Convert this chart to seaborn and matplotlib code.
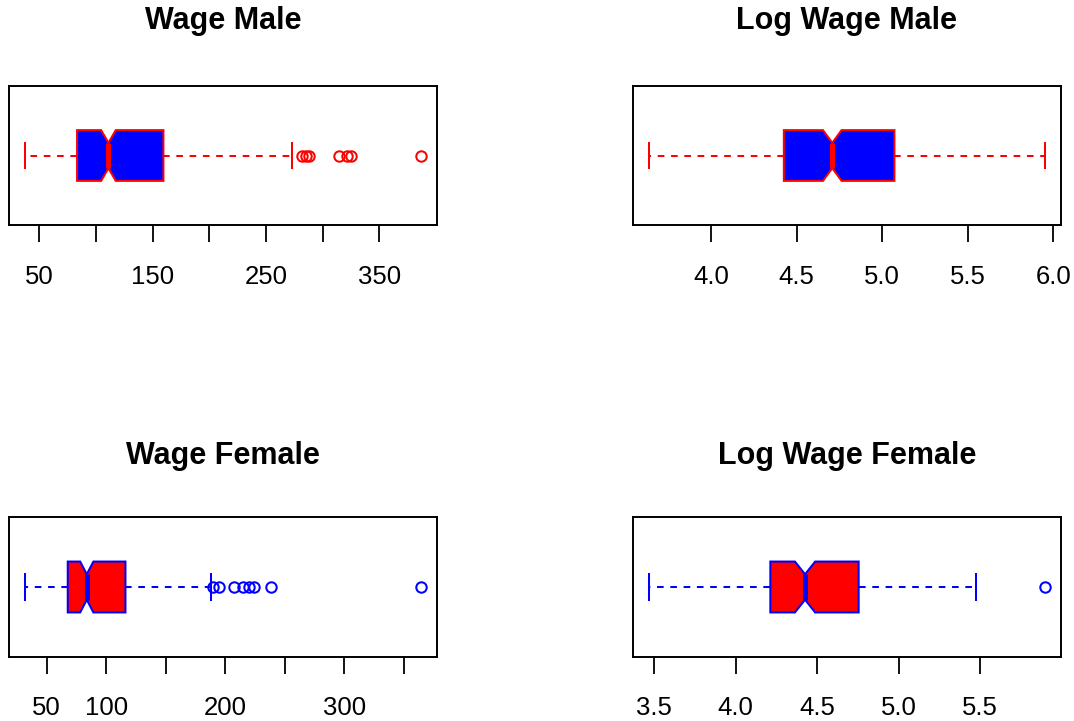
import numpy as np
import pandas as pd
import matplotlib
matplotlib.use("Agg")
import matplotlib.pyplot as plt
import seaborn as sns

# Five-number summaries:
# [lower whisker, Q1, median, Q3, upper whisker]
wage_male_stats = [37.4, 83.2, 110.9, 159.4, 272.6]
wage_male_outliers = [282.0, 285.0, 288.0, 314.0, 321.0, 324.7, 386.5]
logwage_male_stats = [3.639, 4.426, 4.709, 5.072, 5.951]
logwage_male_outliers = []
wage_female_stats = [31.8, 67.6, 83.6, 116.1, 188.1]
wage_female_outliers = [190.0, 194.8, 206.9, 214.7, 219.5, 224.3, 238.2, 364.3]
logwage_female_stats = [3.469, 4.213, 4.426, 4.755, 5.475]
logwage_female_outliers = [5.898]
n_male = 349      # sample sizes estimated from notch widths
n_female = 189

titles = ["Wage Male", "Log Wage Male", "Wage Female", "Log Wage Female"]
ticks_wage = [50, 100, 150, 200, 250, 300, 350]
ticks_log_male = [4.0, 4.5, 5.0, 5.5, 6.0]
ticks_log_female = [3.5, 4.0, 4.5, 5.0, 5.5]
labels_wage_male = ["50", "", "150", "", "250", "", "350"]
labels_wage_female = ["50", "100", "", "200", "", "300", ""]
labels_log_male = ["4.0", "4.5", "5.0", "5.5", "6.0"]
labels_log_female = ["3.5", "4.0", "4.5", "5.0", "5.5"]


def sample_from_summary(stats, outliers, n):
    """Rebuild a sample whose quartiles/whiskers equal the read summary."""
    lo, q1, med, q3, hi = stats
    k = len(outliers)
    step = (n - 1) // 4
    counts = [1, step, step, step, n - 1 - 3 * step - k]
    return np.concatenate([np.repeat([lo, q1, med, q3, hi], counts),
                           np.asarray(outliers, dtype=float)])


panels = [
    (wage_male_stats, wage_male_outliers, n_male, "#0000FF", "#FF0000",
     ticks_wage, labels_wage_male),
    (logwage_male_stats, logwage_male_outliers, n_male, "#0000FF", "#FF0000",
     ticks_log_male, labels_log_male),
    (wage_female_stats, wage_female_outliers, n_female, "#FF0000", "#0000FF",
     ticks_wage, labels_wage_female),
    (logwage_female_stats, logwage_female_outliers, n_female, "#FF0000", "#0000FF",
     ticks_log_female, labels_log_female),
]

plt.rcParams["font.family"] = ["Liberation Sans", "DejaVu Sans"]

W, H = 1074, 721
fig = plt.figure(figsize=(W / 100, H / 100), dpi=100)

# axes frames in pixels: (left, top, right, bottom)
frames = [(9.3, 86, 436.7, 225), (633.3, 86, 1060.7, 225),
          (9.3, 517.3, 436.7, 656.7), (633.3, 517.3, 1060.7, 656.7)]
title_pads = [41, 41, 38.5, 38.5]
lw = 1.45

for i, (stats, outl, n, fill, edge, ticks, labels) in enumerate(panels):
    l, t, r, b = frames[i]
    ax = fig.add_axes([l / W, 1 - b / H, (r - l) / W, (b - t) / H])
    data = sample_from_summary(stats, outl, n)
    sns.boxplot(x=data, ax=ax, orient="h", notch=True, width=0.365,
                color=fill, linecolor=edge, saturation=1, linewidth=lw,
                whiskerprops=dict(linestyle=(0, (3.3, 3.3)), linewidth=lw),
                medianprops=dict(linewidth=3.6),
                capprops=dict(linewidth=lw),
                flierprops=dict(marker="o", markersize=7.5,
                                markerfacecolor="none", markeredgecolor=edge,
                                markeredgewidth=lw))
    lo, hi = data.min(), data.max()
    ext = 0.04 * (hi - lo)
    ax.set_xlim(lo - ext, hi + ext)
    ax.set_ylim(0.5, -0.5)
    ax.set_yticks([])
    ax.set_xticks(ticks)
    ax.set_xticklabels(labels)
    ax.set_xlabel("")
    ax.set_ylabel("")
    ax.tick_params(axis="x", direction="out", length=12, width=1.3,
                   pad=16.5, labelsize=18.5, color="black")
    for sp in ax.spines.values():
        sp.set_visible(True)
        sp.set_color("black")
        sp.set_linewidth(1.4)
    ax.set_title(titles[i], fontsize=22, fontweight="bold", pad=title_pads[i])

fig.savefig("out.png", dpi=100)
